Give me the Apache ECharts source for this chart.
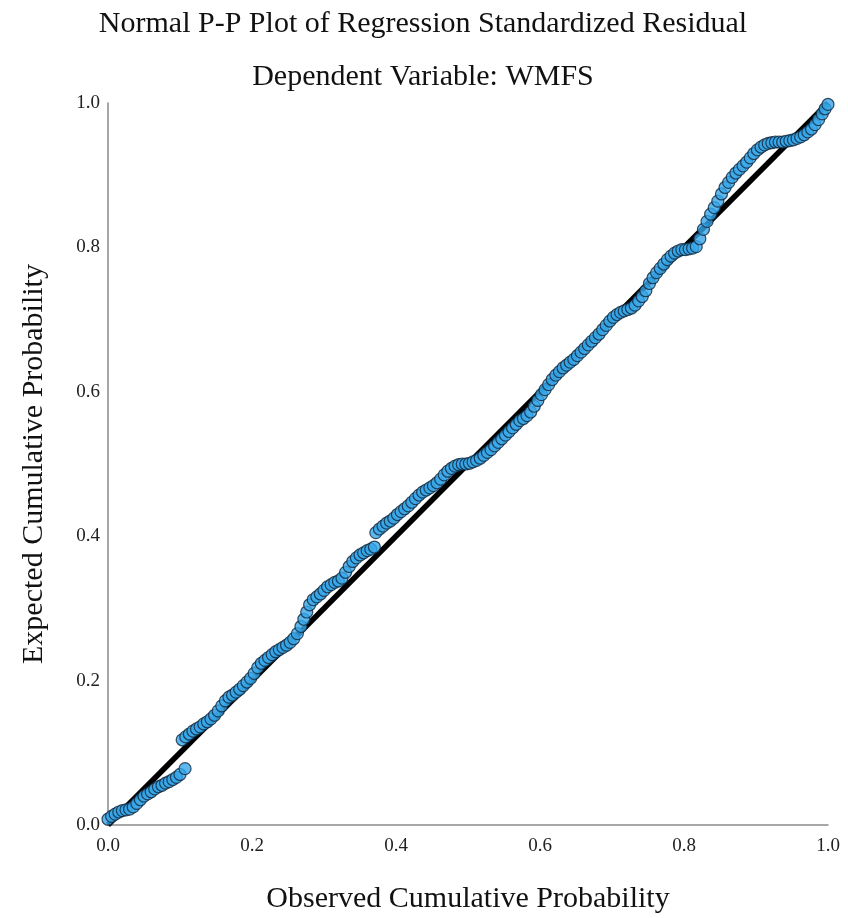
<!DOCTYPE html>
<html>
<head>
<meta charset="utf-8">
<script src="https://cdn.jsdelivr.net/npm/echarts@6/dist/echarts.min.js"></script>
<style>html,body{margin:0;padding:0;background:#fff}#c{width:848px;height:918px}</style>
</head>
<body>
<div id="c"></div>
<script>
var titleText = "Normal P-P Plot of Regression Standardized Residual";
var subtitleText = "Dependent Variable: WMFS";
var xName = "Observed Cumulative Probability";
var yName = "Expected Cumulative Probability";
var tickValues = [0, 0.2, 0.4, 0.6, 0.8, 1.0];
var refLine = [[0, 0], [1, 1]];

var observed = [
0.000,0.005,0.010,0.015,0.020,0.025,0.030,0.035,0.040,0.045,0.050,0.055,0.060,0.065,0.070,0.075,0.080,0.085,0.090,0.095,0.100,0.107,
0.103,0.108,0.113,0.118,0.123,0.128,0.133,0.138,0.143,0.148,0.153,0.158,0.163,0.168,0.173,0.178,0.183,0.188,0.193,0.198,
0.203,0.208,0.213,0.218,0.223,0.228,0.233,0.238,0.243,0.248,0.253,0.258,0.263,0.268,0.272,0.276,0.280,0.285,0.290,0.295,
0.300,0.305,0.310,0.315,0.320,0.325,0.330,0.335,0.340,0.345,0.350,0.355,0.360,0.365,0.370,
0.372,0.377,0.382,0.387,0.392,0.397,0.402,0.407,0.412,0.417,0.422,0.427,0.432,0.437,0.442,0.447,0.452,0.457,0.462,0.467,
0.472,0.477,0.482,0.487,0.492,0.497,0.502,0.507,0.512,0.517,0.522,0.527,0.532,0.537,0.542,0.547,0.552,0.557,0.562,0.567,
0.572,0.577,0.582,0.587,0.592,0.597,0.602,0.607,0.612,0.617,0.622,0.627,0.632,0.637,0.642,0.647,0.652,0.657,0.662,0.667,
0.672,0.677,0.682,0.687,0.692,0.697,0.702,0.707,0.712,0.717,0.722,0.727,0.732,0.737,0.742,0.747,0.752,0.757,0.762,0.767,
0.772,0.777,0.782,0.787,0.792,0.797,0.802,0.807,0.812,0.817,0.822,0.827,0.832,0.837,0.842,0.847,0.852,0.857,0.862,0.867,
0.872,0.877,0.882,0.887,0.892,0.897,0.902,0.907,0.912,0.917,0.922,0.927,0.932,0.937,0.942,0.947,0.952,0.957,0.962,0.967,
0.972,0.977,0.982,0.987,0.992,0.996,1.000
];
var expected = [
0.008,0.012,0.015,0.018,0.020,0.021,0.022,0.025,0.030,0.035,0.040,0.043,0.046,0.050,0.053,0.055,0.058,0.060,0.063,0.066,0.070,0.078,
0.118,0.122,0.126,0.130,0.133,0.136,0.140,0.143,0.147,0.152,0.158,0.165,0.172,0.177,0.180,0.184,0.188,0.193,0.198,0.203,
0.210,0.218,0.224,0.228,0.232,0.236,0.240,0.243,0.246,0.249,0.253,0.258,0.265,0.275,0.285,0.295,0.305,0.312,0.316,0.320,
0.325,0.330,0.333,0.336,0.338,0.342,0.350,0.358,0.365,0.370,0.374,0.377,0.380,0.382,0.385,
0.405,0.410,0.414,0.418,0.421,0.425,0.430,0.434,0.438,0.442,0.447,0.452,0.457,0.461,0.464,0.467,0.470,0.474,0.479,0.485,
0.490,0.494,0.497,0.499,0.500,0.500,0.501,0.503,0.505,0.508,0.512,0.516,0.520,0.525,0.530,0.535,0.540,0.545,0.550,0.555,
0.560,0.563,0.567,0.572,0.580,0.588,0.596,0.603,0.610,0.617,0.623,0.628,0.633,0.637,0.641,0.645,0.650,0.655,0.660,0.665,
0.670,0.675,0.680,0.686,0.692,0.698,0.703,0.707,0.710,0.712,0.714,0.716,0.720,0.726,0.732,0.740,0.750,0.758,0.765,0.771,
0.777,0.783,0.788,0.792,0.795,0.797,0.797,0.798,0.799,0.801,0.812,0.825,0.836,0.846,0.855,0.864,0.874,0.883,0.890,0.897,
0.903,0.908,0.913,0.918,0.924,0.930,0.935,0.939,0.942,0.944,0.945,0.946,0.946,0.946,0.947,0.948,0.949,0.951,0.953,0.956,
0.960,0.964,0.970,0.977,0.985,0.992,0.998
];

var points = observed.map(function (x, i) { return [x, expected[i]]; });
var serif = "Liberation Serif";

var axisCommon = {
  type: 'value', min: 0, max: 1, interval: 0.2,
  splitLine: { show: false },
  axisTick: { show: false },
  axisLine: { show: true, lineStyle: { color: '#8a8a8a', width: 1.5 } },
  axisLabel: { fontFamily: serif, fontSize: 19, color: '#222',
    formatter: function (v) { return v.toFixed(1); } },
  nameLocation: 'middle',
  nameTextStyle: { fontFamily: serif, fontSize: 30, color: '#111' }
};

var chart = echarts.init(document.getElementById('c'));
chart.setOption({
  backgroundColor: '#fff',
  animation: false,
  title: [
    { text: titleText, left: 418, top: 4, textAlign: 'center',
      textStyle: { fontFamily: serif, fontSize: 30, fontWeight: 'normal', color: '#111' } },
    { text: subtitleText, left: 418, top: 57, textAlign: 'center',
      textStyle: { fontFamily: serif, fontSize: 30, fontWeight: 'normal', color: '#111' } }
  ],
  grid: { left: 108, right: 20, top: 103, bottom: 93, containLabel: false, outerBoundsMode: 'none' },
  xAxis: Object.assign({}, axisCommon, { name: xName, nameGap: 59,
    axisLabel: Object.assign({}, axisCommon.axisLabel, { margin: 12 }) }),
  yAxis: Object.assign({}, axisCommon, { name: yName, nameGap: 59, nameRotate: 90,
    axisLabel: Object.assign({}, axisCommon.axisLabel, { margin: 8 }) }),
  series: [
    { type: 'line', data: refLine, symbol: 'none', silent: true, z: 1,
      lineStyle: { color: '#000', width: 5.5 } },
    { type: 'scatter', data: points, symbol: 'circle', symbolSize: 12, z: 2,
      itemStyle: { color: '#36a6ea', borderColor: '#10263a', borderWidth: 1.2 } }
  ]
});
</script>
</body>
</html>
